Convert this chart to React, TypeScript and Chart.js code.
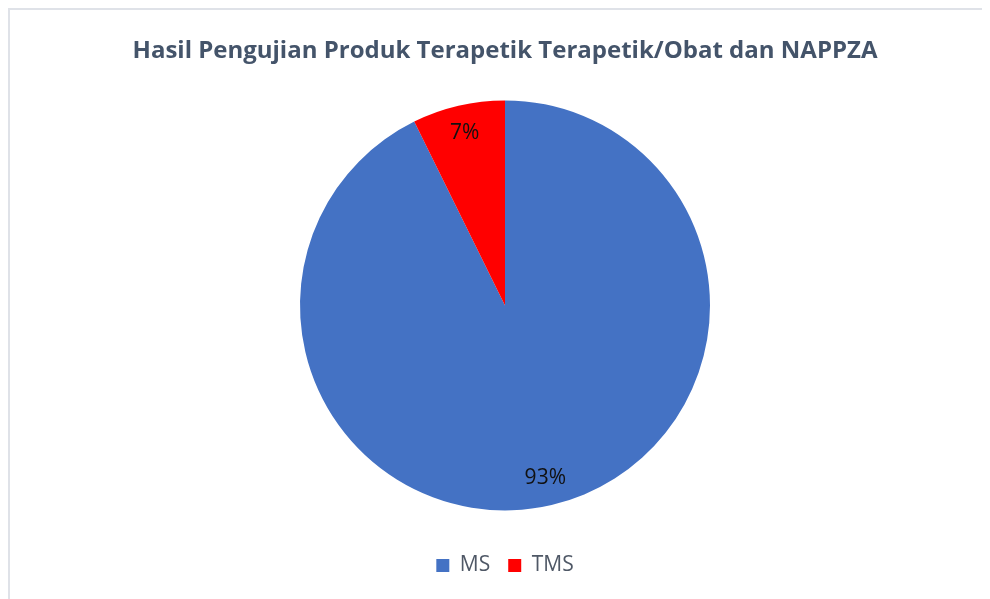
import React, { useEffect, useRef } from "react";
import { Chart, registerables } from "chart.js";

Chart.register(...registerables);

const titleText = "Hasil Pengujian Produk Terapetik Terapetik/Obat dan NAPPZA";
const categories = ["MS", "TMS"];
const shares = [92.7, 7.3];
const colors = ["#4472C4", "#FF0000"];

const labelPlugin = {
  id: "pctLabels",
  afterDatasetsDraw(chart: any) {
    const ctx = chart.ctx;
    const meta = chart.getDatasetMeta(0);
    const data = chart.data.datasets[0].data as number[];
    const total = data.reduce((a, b) => a + b, 0);
    ctx.save();
    ctx.font = "21px 'Open Sans'";
    ctx.fillStyle = "#111111";
    ctx.textAlign = "center";
    ctx.textBaseline = "middle";
    meta.data.forEach((arc: any, i: number) => {
      const p = arc.getProps(["x", "y", "startAngle", "endAngle", "outerRadius"], true);
      const mid = (p.startAngle + p.endAngle) / 2;
      const r = p.outerRadius * 0.865;
      const x = p.x + Math.cos(mid) * r;
      const y = p.y + Math.sin(mid) * r;
      ctx.fillText(Math.round((data[i] / total) * 100) + "%", x, y);
    });
    ctx.restore();
  },
};

export default function App() {
  const ref = useRef<HTMLCanvasElement>(null);
  useEffect(() => {
    if (!ref.current) return;
    const chart = new Chart(ref.current, {
      type: "pie",
      data: {
        labels: categories,
        datasets: [
          {
            data: shares,
            backgroundColor: colors,
            borderWidth: 0,
            radius: 205,
          } as any,
        ],
      },
      options: {
        animation: false,
        responsive: false,
        layout: { padding: { left: 10, right: 0, top: 0, bottom: 13 } },
        plugins: {
          title: {
            display: true,
            text: titleText,
            color: "#44546A",
            font: { family: "'Open Sans'", size: 24, weight: "bold" },
            padding: { top: 27, bottom: 8 },
          },
          legend: {
            position: "bottom",
            labels: {
              boxWidth: 13,
              boxHeight: 13,
              padding: 18,
              color: "#4F5866",
              font: { family: "'Open Sans'", size: 21 },
            },
          },
          tooltip: { enabled: false },
        },
      },
      plugins: [labelPlugin],
    });
    return () => chart.destroy();
  }, []);
  return (
    <div
      style={{
        width: 1000,
        height: 620,
        borderTop: "2px solid #DFE2E8",
        borderLeft: "2px solid #DFE2E8",
        background: "#fff",
      }}
    >
      <canvas ref={ref} width={980} height={589} style={{ display: "block" }} />
    </div>
  );
}
